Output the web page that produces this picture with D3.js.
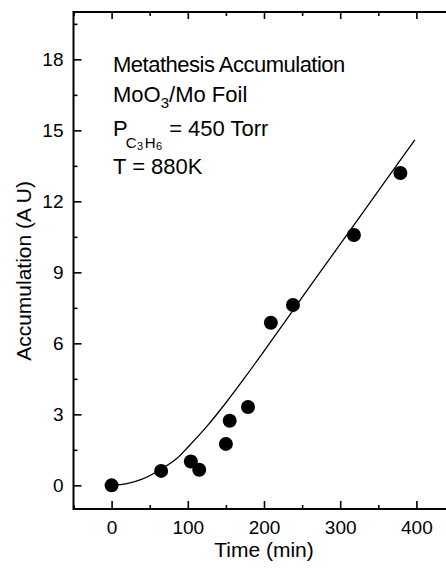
<!DOCTYPE html>
<html>
<head>
<meta charset="utf-8">
<script src="https://cdn.jsdelivr.net/npm/d3@7/dist/d3.min.js"></script>
<style>
  html, body { margin: 0; padding: 0; background: #fff; }
  svg { display: block; }
  text { font-family: "Liberation Sans", Arial, Helvetica, sans-serif; fill: #000; }
</style>
</head>
<body>
<svg id="chart" width="446" height="572"></svg>
<script>
// Measured metathesis product accumulation (A U) vs time (min)
const timeMin = [0, 65, 104, 115, 150, 155, 179, 209, 238, 318, 379];
const accumulation = [0, 0.61, 1.01, 0.66, 1.75, 2.73, 3.31, 6.87, 7.62, 10.58, 13.2];

// Fitted kinetic curve, sampled along its length
const fitTime = [0, 20, 40, 65, 85, 100, 125, 150, 175, 200, 225, 250, 280, 310, 340, 370, 398];
const fitValue = [0, 0.07, 0.26, 0.68, 1.12, 1.61, 2.49, 3.49, 4.56, 5.67, 6.8, 7.94, 9.29, 10.64, 11.99, 13.34, 14.6];

// Axis ticks
const xMajor = [0, 100, 200, 300, 400];
const xMinor = [-50, 50, 150, 250, 350, 450];
const yMajor = [0, 3, 6, 9, 12, 15, 18];
const yMinor = [1.5, 4.5, 7.5, 10.5, 13.5, 16.5, 19.5];

// Annotation lines
const annoTitle = "Metathesis Accumulation";
const annoPressure = "= 450 Torr";
const annoTemp = "T = 880K";

const svg = d3.select("#chart");

const x = d3.scaleLinear().domain([-50, 450]).range([73.5, 454.5]);
const y = d3.scaleLinear().domain([-1, 20]).range([509, 12]);

const tickFont = "19px";

// Frame (right edge falls just outside the page)
svg.append("rect")
  .attr("x", x(-50)).attr("y", y(20))
  .attr("width", x(450) - x(-50)).attr("height", y(-1) - y(20))
  .attr("fill", "none").attr("stroke", "#000").attr("stroke-width", 2);

function styleAxis(g) {
  g.select(".domain").remove();
  g.selectAll(".tick line").attr("stroke", "#000").attr("stroke-width", 1.6);
  g.selectAll(".tick text").style("font-size", tickFont);
}

// Bottom axis: inward ticks with labels
svg.append("g").attr("transform", `translate(0,${y(-1)})`)
  .call(d3.axisBottom(x).tickValues(xMajor).tickSizeInner(-8).tickSizeOuter(0).tickPadding(12).tickFormat(d3.format("d")))
  .call(styleAxis);
svg.append("g").attr("transform", `translate(0,${y(-1)})`)
  .call(d3.axisBottom(x).tickValues(xMinor).tickSizeInner(-4).tickSizeOuter(0).tickFormat(""))
  .call(styleAxis);

// Top axis: inward ticks only
svg.append("g").attr("transform", `translate(0,${y(20)})`)
  .call(d3.axisTop(x).tickValues(xMajor).tickSizeInner(-7).tickSizeOuter(0).tickFormat(""))
  .call(styleAxis);
svg.append("g").attr("transform", `translate(0,${y(20)})`)
  .call(d3.axisTop(x).tickValues(xMinor).tickSizeInner(-4).tickSizeOuter(0).tickFormat(""))
  .call(styleAxis);

// Left axis: inward ticks with labels
svg.append("g").attr("transform", `translate(${x(-50)},0)`)
  .call(d3.axisLeft(y).tickValues(yMajor).tickSizeInner(-8).tickSizeOuter(0).tickPadding(10).tickFormat(d3.format("d")))
  .call(styleAxis);
svg.append("g").attr("transform", `translate(${x(-50)},0)`)
  .call(d3.axisLeft(y).tickValues(yMinor).tickSizeInner(-4).tickSizeOuter(0).tickFormat(""))
  .call(styleAxis);

// Right axis ticks (outside the visible page)
svg.append("g").attr("transform", `translate(${x(450)},0)`)
  .call(d3.axisRight(y).tickValues(yMajor).tickSizeInner(-8).tickSizeOuter(0).tickFormat(""))
  .call(styleAxis);

// Axis titles
svg.append("text")
  .attr("x", x(200)).attr("y", 557)
  .attr("text-anchor", "middle").style("font-size", "21px")
  .text("Time (min)");

svg.append("text")
  .attr("transform", `translate(31,${271}) rotate(-90)`)
  .attr("text-anchor", "middle").style("font-size", "21px")
  .text("Accumulation (A U)");

// Fitted curve
const fitPts = fitTime.map((t, i) => [t, fitValue[i]]);
svg.append("path")
  .datum(fitPts)
  .attr("fill", "none").attr("stroke", "#000").attr("stroke-width", 1.3)
  .attr("d", d3.line().x(d => x(d[0])).y(d => y(d[1])).curve(d3.curveCatmullRom.alpha(0.5)));

// Data points
svg.append("g").selectAll("circle")
  .data(timeMin.map((t, i) => [t, accumulation[i]]))
  .join("circle")
  .attr("cx", d => x(d[0])).attr("cy", d => y(d[1]))
  .attr("r", 7).attr("fill", "#000");

// Annotation block
const ax = 113;
const anno = svg.append("g").style("font-size", "22px");
anno.append("text").attr("x", ax).attr("y", 72)
  .style("letter-spacing", "-0.5px").text(annoTitle);

const l2 = anno.append("text").attr("x", ax).attr("y", 102);
l2.append("tspan").text("MoO");
l2.append("tspan").attr("dy", 6).style("font-size", "15px").text("3");
l2.append("tspan").attr("dy", -6).text("/Mo Foil");

// Pressure line: P with a C3H6 subscript, then the value
const l3 = anno.append("text").attr("x", ax).attr("y", 136);
l3.append("tspan").text("P");
l3.append("tspan").attr("dy", 12).attr("dx", -2).style("font-size", "15px").text("C");
l3.append("tspan").attr("dy", 1.5).attr("dx", 0.5).style("font-size", "11px").text("3");
l3.append("tspan").attr("dy", -1.5).attr("dx", 1.5).style("font-size", "15px").text("H");
l3.append("tspan").attr("dy", 1.5).attr("dx", 0.5).style("font-size", "11px").text("6");
l3.append("tspan").attr("dy", -13.5).attr("dx", 7).text(annoPressure);

anno.append("text").attr("x", ax).attr("y", 174).text(annoTemp);
</script>
</body>
</html>
